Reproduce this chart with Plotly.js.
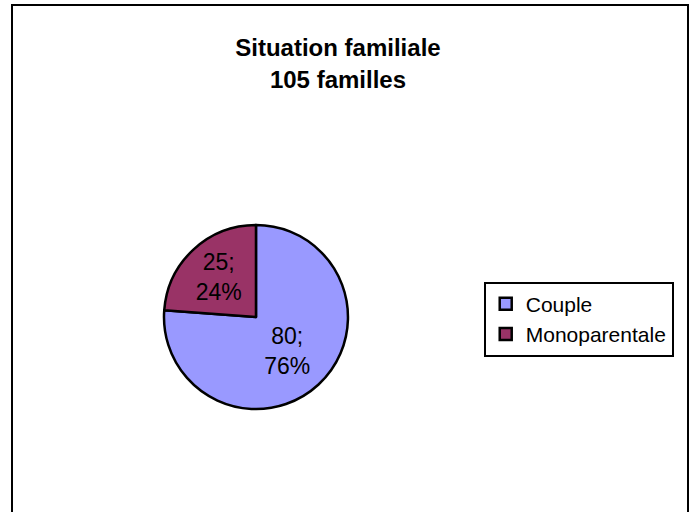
<!DOCTYPE html>
<html>
<head>
<meta charset="utf-8">
<script src="https://cdn.plot.ly/plotly-3.0.1.min.js"></script>
<style>html,body{margin:0;padding:0;background:#fff;}</style>
</head>
<body>
<div id="chart" style="width:694px;height:512px;"></div>
<script>
const categories = ["Couple", "Monoparentale"];
const values = [80, 25];
const colors = ["#9999FF", "#993366"];

const trace = {
  type: "pie",
  labels: categories,
  values: values,
  sort: false,
  direction: "clockwise",
  rotation: 0,
  marker: { colors: colors, line: { color: "#000", width: 2.5 } },
  texttemplate: "%{value};<br>%{percent:.0%}",
  textposition: "inside",
  insidetextorientation: "horizontal",
  textfont: { family: "Liberation Sans, Arial, sans-serif", size: 23, color: "#000" },
  hoverinfo: "label+value+percent",
  domain: { x: [0.2363, 0.5014], y: [0.201, 0.5605] }
};

const layout = {
  width: 694, height: 512,
  margin: { l: 0, r: 0, t: 0, b: 0 },
  paper_bgcolor: "#fff",
  uniformtext: { mode: "show", minsize: 23 },
  title: {
    text: "<b>Situation familiale<br>105 familles</b>",
    font: { family: "Liberation Sans, Arial, sans-serif", size: 24, color: "#000" },
    x: 0.487, xanchor: "center", y: 0.89, yanchor: "top"
  },
  showlegend: true,
  legend: {
    x: 0.697, xanchor: "left", y: 0.45, yanchor: "top",
    bordercolor: "#000", borderwidth: 2, bgcolor: "#fff",
    font: { family: "Liberation Sans, Arial, sans-serif", size: 21, color: "#000" },
    itemwidth: 30
  },
  shapes: [{
    type: "rect", xref: "paper", yref: "paper",
    x0: 12/694, x1: 688/694, y0: -0.05, y1: 507/512,
    line: { color: "#000", width: 2 }
  }]
};

Plotly.newPlot("chart", [trace], layout, { displayModeBar: false, staticPlot: true });
</script>
</body>
</html>
